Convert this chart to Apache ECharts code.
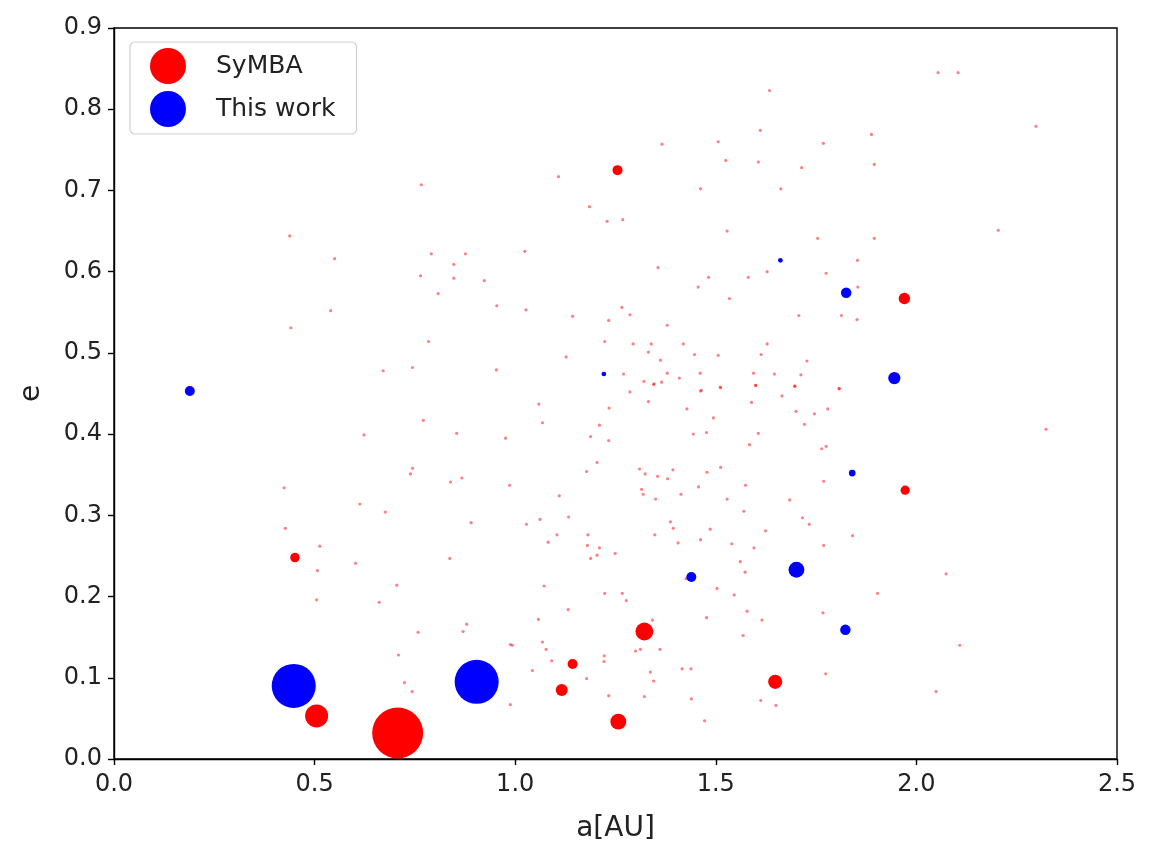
<!DOCTYPE html>
<html>
<head>
<meta charset="utf-8">
<title>a vs e</title>
<script src="https://cdn.jsdelivr.net/npm/echarts@6/dist/echarts.min.js"></script>
<style>
  html, body { margin: 0; padding: 0; background: #fff; }
  #chart { width: 1153px; height: 860px; }
</style>
</head>
<body>
<div id="chart"></div>
<script>
// semi-major axis a [AU], eccentricity e, marker area m (relative mass)
const symbaA = [0.707, 0.505, 1.322, 1.257, 1.116, 1.143, 1.648, 1.970, 1.972, 1.255, 0.451,
  2.054, 2.104, 1.634, 2.298, 1.611, 1.888, 1.366, 1.506, 1.768, 1.525, 1.606, 1.714, 1.895, 1.108,
  1.462, 1.662, 1.185, 1.229, 1.268, 1.528, 2.204, 1.754, 1.895, 1.024, 1.853, 1.356, 1.628, 1.775,
  1.482, 1.581, 1.456, 1.854, 1.534, 1.027, 1.266, 1.143, 1.286, 1.233, 1.707, 1.813, 1.852, 1.379,
  1.223, 1.294, 1.339, 1.419, 1.628, 1.127, 1.332, 1.447, 1.506, 1.613, 1.362, 1.727, 1.270, 1.379,
  1.461, 1.594, 1.646, 1.712, 1.321, 1.346, 1.365, 1.409, 1.512, 1.600, 1.697, 1.808, 1.464,
  0.766, 0.438, 0.550, 0.791, 0.876, 0.847, 0.764, 0.847, 0.923, 0.808, 0.954, 0.540, 0.441, 0.784,
  0.671, 0.744, 0.953,
  0.771, 0.623, 0.854, 0.976, 0.744, 0.739, 0.839, 0.867, 0.424, 0.986, 0.613, 0.676, 0.890, 0.427,
  0.513, 0.837, 0.602, 0.507, 0.705, 0.505, 0.661, 0.879, 0.870, 0.758, 0.988, 0.709, 0.724, 0.743,
  0.988,
  1.059, 1.068, 1.110, 1.062, 1.028, 1.133, 1.104, 1.082, 1.181, 1.180, 1.210, 1.204, 1.188, 1.249,
  1.234, 1.210, 1.188, 1.233, 1.204, 1.178, 1.286, 1.345, 1.332, 1.428, 1.462, 1.511, 1.599, 1.665,
  1.697, 1.807, 1.589, 1.700, 1.746, 1.779, 1.721, 1.494, 1.444, 1.477, 1.606, 1.584, 1.764, 1.775,
  1.310, 1.324, 1.355, 1.380, 1.393, 1.478, 1.512, 1.315, 1.319, 1.350, 1.413, 1.457, 1.528, 1.574,
  1.684, 1.769, 1.570, 1.716, 1.733, 1.624, 1.486, 1.462, 1.387, 1.394, 1.348, 1.406, 1.540, 1.595,
  1.769, 1.841, 1.561, 1.573, 1.426, 1.503, 1.546, 1.903, 1.223, 1.267, 1.277, 1.072, 1.132, 1.058,
  1.342, 1.477, 1.578, 1.615, 1.767, 1.568, 1.068, 0.993, 1.077, 1.091, 1.043, 1.300, 1.312, 1.361,
  1.222, 1.221, 1.178, 1.337, 1.345, 1.416, 1.438, 1.774, 1.612, 1.650, 1.233, 1.322, 1.439, 1.472,
  2.323, 2.074, 2.108, 2.049];
const symbaE = [0.032, 0.053, 0.157, 0.046, 0.085, 0.117, 0.095, 0.567, 0.331, 0.725, 0.248,
  0.845, 0.845, 0.823, 0.779, 0.774, 0.769, 0.757, 0.760, 0.758, 0.737, 0.735, 0.728, 0.732, 0.717,
  0.702, 0.702, 0.680, 0.662, 0.664, 0.650, 0.651, 0.641, 0.641, 0.625, 0.614, 0.605, 0.600, 0.598,
  0.593, 0.593, 0.581, 0.581, 0.567, 0.553, 0.556, 0.545, 0.547, 0.540, 0.546, 0.546, 0.541, 0.534,
  0.514, 0.511, 0.511, 0.511, 0.511, 0.495, 0.501, 0.498, 0.497, 0.498, 0.491, 0.490, 0.474, 0.475,
  0.475, 0.475, 0.474, 0.473, 0.465, 0.462, 0.464, 0.469, 0.457, 0.460, 0.459, 0.456, 0.454,
  0.707, 0.644, 0.616, 0.622, 0.622, 0.609, 0.595, 0.592, 0.589, 0.573, 0.558, 0.552, 0.531, 0.514,
  0.478, 0.482, 0.479,
  0.417, 0.399, 0.401, 0.395, 0.358, 0.351, 0.341, 0.346, 0.334, 0.337, 0.314, 0.304, 0.291, 0.284,
  0.262, 0.247, 0.241, 0.232, 0.214, 0.196, 0.193, 0.166, 0.157, 0.156, 0.141, 0.128, 0.094, 0.083,
  0.067,
  0.437, 0.414, 0.324, 0.295, 0.289, 0.298, 0.276, 0.267, 0.276, 0.263, 0.260, 0.251, 0.247, 0.253,
  0.432, 0.411, 0.397, 0.392, 0.365, 0.354, 0.452, 0.461, 0.440, 0.431, 0.453, 0.458, 0.460, 0.447,
  0.459, 0.456, 0.439, 0.428, 0.425, 0.431, 0.412, 0.420, 0.400, 0.402, 0.401, 0.387, 0.382, 0.385,
  0.357, 0.351, 0.348, 0.345, 0.356, 0.353, 0.359, 0.332, 0.326, 0.320, 0.326, 0.335, 0.320, 0.337,
  0.319, 0.342, 0.305, 0.297, 0.289, 0.281, 0.283, 0.270, 0.292, 0.284, 0.276, 0.266, 0.265, 0.260,
  0.263, 0.275, 0.243, 0.230, 0.222, 0.210, 0.202, 0.204, 0.204, 0.204, 0.195, 0.213, 0.184, 0.172,
  0.171, 0.174, 0.182, 0.171, 0.180, 0.152, 0.144, 0.140, 0.135, 0.121, 0.109, 0.133, 0.135, 0.135,
  0.127, 0.120, 0.099, 0.107, 0.096, 0.111, 0.111, 0.105, 0.072, 0.066, 0.078, 0.077, 0.074, 0.047,
  0.406, 0.228, 0.140, 0.083];
const symbaM = [2600, 530, 320, 250, 145, 100, 200, 130, 85, 100, 90];

const workA = [0.448, 0.904, 0.189, 1.439, 1.701, 1.823, 1.825, 1.945, 1.840, 1.661, 1.221];
const workE = [0.090, 0.095, 0.453, 0.224, 0.233, 0.159, 0.574, 0.469, 0.352, 0.614, 0.474];
const workM = [1940, 1940, 100, 100, 250, 110, 110, 150, 45, 22, 22];

const TINY_M = 10;   // unresolved bodies, drawn faint
const xTicks = { min: 0, max: 2.5, interval: 0.5 };
const yTicks = { min: 0, max: 0.9, interval: 0.1 };

function points(a, e, m) {
  return a.map((v, i) => {
    const mass = m[i] !== undefined ? m[i] : TINY_M;
    const p = { value: [v, e[i], mass] };
    if (m[i] === undefined) p.itemStyle = { opacity: 0.5 };
    return p;
  });
}

const FONT = 'DejaVu Sans';
const axisCommon = {
  axisLine: { show: true, onZero: false, lineStyle: { color: '#000', width: 1.4 } },
  axisTick: { show: true, length: 6, lineStyle: { color: '#000', width: 1.4 } },
  splitLine: { show: false },
  nameLocation: 'middle',
  nameTextStyle: { fontFamily: FONT, fontSize: 28, color: '#222' }
};

const chart = echarts.init(document.getElementById('chart'), null, { renderer: 'canvas' });
chart.setOption({
  animation: false,
  backgroundColor: '#fff',
  grid: { left: 114, right: 36, top: 28, bottom: 101, show: true, borderColor: '#000', borderWidth: 1.4 },
  legend: {
    orient: 'vertical', left: 130, top: 42,
    padding: [6, 21, 7, 20], itemGap: 7,
    itemWidth: 72, itemHeight: 36, icon: 'circle',
    borderColor: '#d0d0d0', borderWidth: 1.2, borderRadius: 5,
    backgroundColor: 'rgba(255,255,255,0.85)',
    textStyle: { fontFamily: FONT, fontSize: 25, color: '#222', padding: [0, 0, 0, 7] },
    data: ['SyMBA', 'This work']
  },
  xAxis: Object.assign({}, axisCommon, {
    type: 'value', ...xTicks, name: 'a[AU]', nameGap: 56,
    axisLabel: { fontFamily: FONT, fontSize: 24, color: '#222', margin: 14, formatter: v => v.toFixed(1) }
  }),
  yAxis: Object.assign({}, axisCommon, {
    type: 'value', ...yTicks, name: 'e', nameGap: 68, nameRotate: 90,
    axisLabel: { fontFamily: FONT, fontSize: 24, color: '#222', margin: 12, formatter: v => v.toFixed(1) }
  }),
  series: [
    {
      name: 'SyMBA', type: 'scatter',
      data: points(symbaA, symbaE, symbaM),
      symbolSize: d => Math.sqrt(d[2]),
      itemStyle: { color: '#ff0000', opacity: 1 }
    },
    {
      name: 'This work', type: 'scatter',
      data: points(workA, workE, workM),
      symbolSize: d => Math.sqrt(d[2]),
      itemStyle: { color: '#0000ff', opacity: 1 }
    }
  ]
});
</script>
</body>
</html>
